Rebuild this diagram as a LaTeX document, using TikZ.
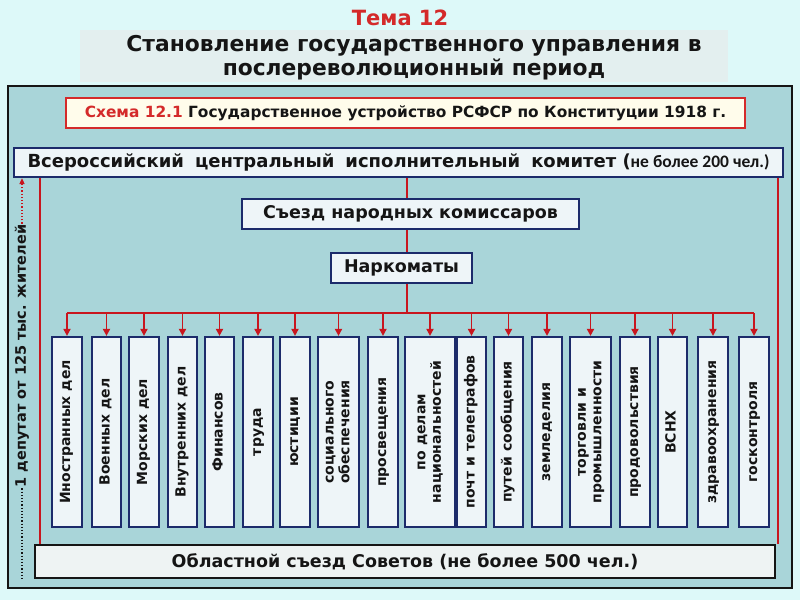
\documentclass[tikz,border=0pt]{standalone}
\usepackage{graphicx}
\usepackage{fontspec}
\setmainfont{DejaVu Sans}
\newfontfamily\narrowfont{Carlito}
\usetikzlibrary{arrows.meta}
\definecolor{pagebg}{HTML}{DDF9F9}
\definecolor{bandgray}{HTML}{E3EFEF}
\definecolor{panelteal}{HTML}{A9D5D9}
\definecolor{temared}{HTML}{D42A2A}
\definecolor{linkred}{HTML}{C8161E}
\definecolor{boxnavy}{HTML}{1C2B6B}
\definecolor{boxfill}{HTML}{EEF5F8}
\definecolor{schemefill}{HTML}{FFFCEB}
\definecolor{oblfill}{HTML}{EEF3F3}
\definecolor{inkblack}{HTML}{151515}
\newcommand{\uptext}[1]{\rotatebox{90}{\begin{tabular}{@{}c@{}}#1\end{tabular}}}

\begin{document}
\begin{tikzpicture}[
  x=1pt,
  y=-1pt,
  every node/.style={text=inkblack},
  title/.style={font=\bfseries\fontsize{21}{24}\selectfont, text=temared},
  subtitle/.style={font=\bfseries\fontsize{21.8}{23.5}\selectfont, align=center},
  schemebox/.style={draw=temared, line width=2pt, fill=schemefill, inner sep=0pt,
                    minimum width=679, minimum height=30,
                    font=\bfseries\fontsize{15.4}{18}\selectfont},
  organ/.style={draw=boxnavy, line width=2.2pt, fill=boxfill, inner sep=0pt,
                font=\bfseries\fontsize{17.5}{20}\selectfont},
  minbox/.style={organ, minimum height=190, font=\bfseries\fontsize{14}{15.5}\selectfont},
  link/.style={linkred, line width=1.8pt},
  down/.style={link, -{Triangle[length=7pt, width=7pt]}},
  elect/.style={linkred, line width=1.5pt, dash pattern=on 1.2pt off 2pt,
                -{Triangle[length=6pt, width=5pt]}},
  electfoot/.style={inkblack, line width=1.5pt, dash pattern=on 1.2pt off 2pt}
]
  % ---- page, heading band and panel ----
  \path[fill=pagebg] (0,0) rectangle (800,600);
  \fill[bandgray] (80,30) rectangle (728,82);
  \draw[inkblack, line width=2.5pt, fill=panelteal] (8,86) rectangle (792,588);

  % ---- headings ----
  \node[title] (tema) at (400,18) {Тема 12};
  \node[subtitle] (head) at (414,57.5)
    {Становление государственного управления в\\послереволюционный период};
  \node[schemebox] (scheme) at (405.5,113)
    {\textcolor{temared}{Схема 12.1} Государственное устройство РСФСР по Конституции 1918 г.};

  % ---- upper organs ----
  \node[organ, minimum width=769, minimum height=29, font=\bfseries\fontsize{18}{20}\selectfont]
    (vcik) at (398.5,162.5)
    {Всероссийский\hspace{11pt}центральный\hspace{11pt}исполнительный\hspace{11pt}комитет
     (\narrowfont\fontsize{17.5}{18}\selectfont не более 200 чел.)};
  \node[organ, minimum width=337, minimum height=30] (sezd) at (410.5,214)
    {Съезд народных комиссаров};
  \node[organ, minimum width=141, minimum height=30] (nark) at (401.5,268) {Наркоматы};
  \node[organ, draw=inkblack, fill=oblfill, minimum width=740, minimum height=33]
    (obl) at (405,561.5) {Областной съезд Советов (не более 500 чел.)};

  \coordinate (spine) at (407,0);
  \coordinate (bus) at (0,313);
  \coordinate (lside) at (40,0);
  \coordinate (rside) at (778,0);

  % ---- the eighteen commissariats ----
  \foreach \l/\r/\txt [count=\i] in {
      52/82/{Иностранных дел}, 92/121/{Военных дел}, 129/159/{Морских дел},
      168/197/{Внутренних дел}, 205/234/{Финансов}, 243/273/{труда},
      280/310/{юстиции}, 318/359/{социального\\обеспечения}, 368/398/{просвещения},
      405/455/{по делам\\национальностей}, 457/486/{почт и телеграфов},
      494/523/{путей сообщения}, 532/562/{земледелия},
      570/611/{торговли и\\промышленности}, 620/650/{продовольствия},
      658/687/{ВСНХ}, 698/728/{здравоохранения}, 739/769/{госконтроля}}
  {
    \node[minbox, minimum width={\r-\l}] (m\i) at ({(\l+\r)/2},432) {\uptext{\txt}};
    \draw[down] (m\i.north |- bus) -- (m\i.north);
  }

  % ---- connectors ----
  \draw[link] (vcik.south -| spine) -- (sezd.north -| spine);
  \draw[link] (sezd.south -| spine) -- (nark.north -| spine);
  \draw[link] (nark.south -| spine) -- (bus -| spine);
  \draw[link] (m1.north |- bus) -- (m18.north |- bus);
  \draw[link] (vcik.south -| lside) -- (obl.north -| lside);
  \draw[link] (vcik.south -| rside) -- (obl.north -| rside);

  % ---- representation norm on the left ----
  \node[rotate=90, inner sep=1pt, font=\bfseries\fontsize{14.5}{16}\selectfont]
    (vote) at (22,356) {1 депутат от 125 тыс. жителей};
  \coordinate (votefoot) at (22,580);
  \draw[elect] (vote.east) -- (vcik.south -| vote);
  \draw[electfoot] (vote.west) -- (votefoot);
\end{tikzpicture}
\end{document}
